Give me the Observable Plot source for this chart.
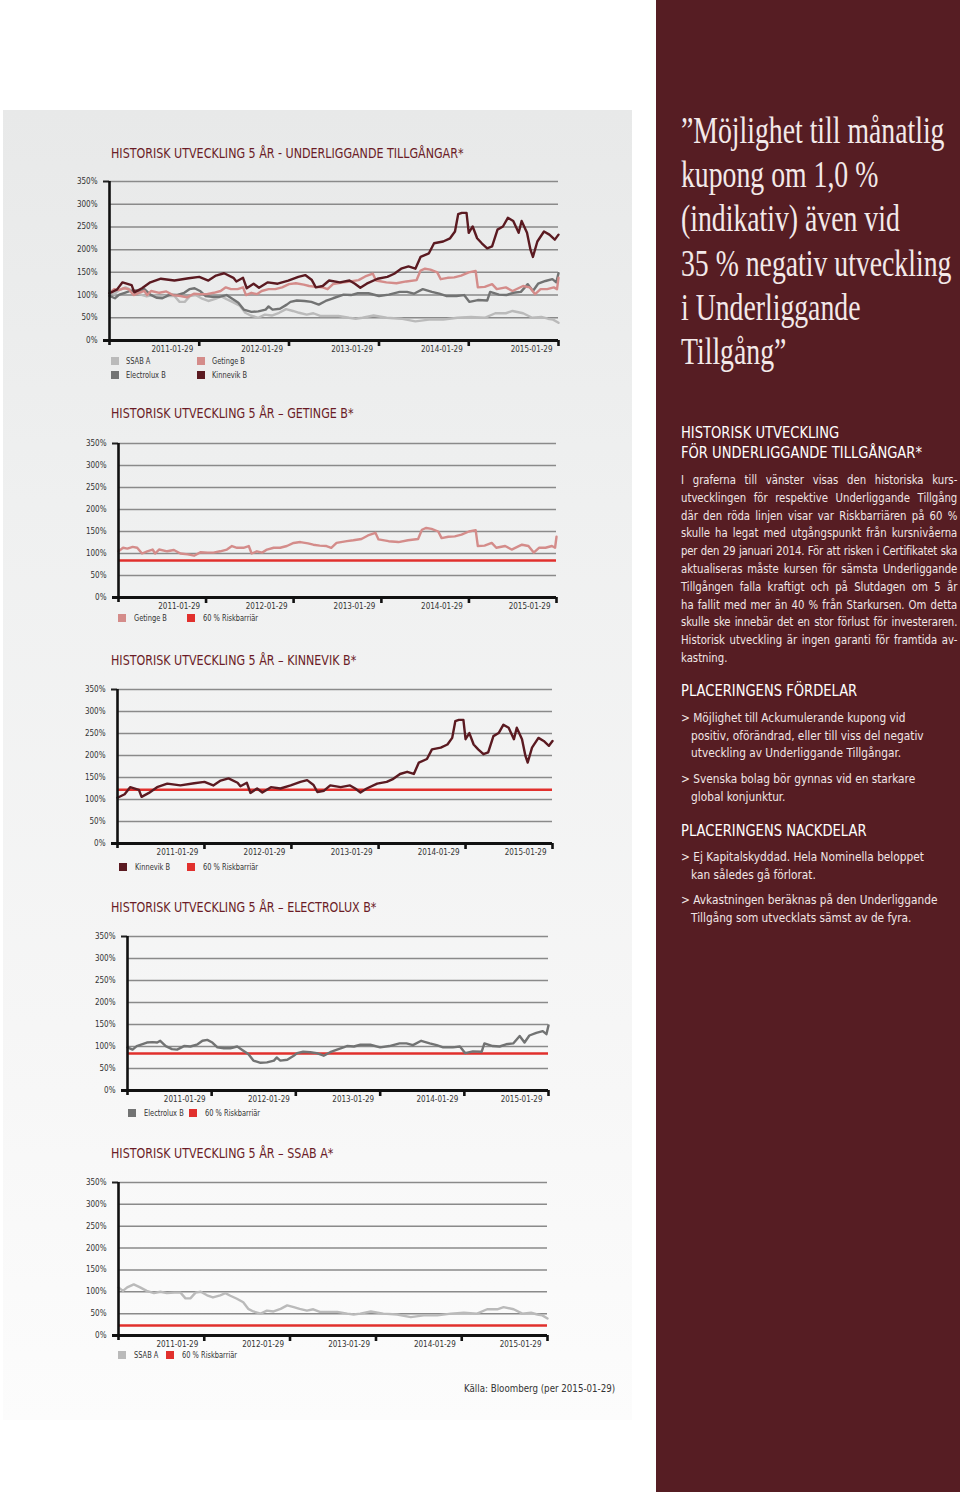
<!DOCTYPE html>
<html><head><meta charset="utf-8">
<script src="https://cdn.jsdelivr.net/npm/d3@7"></script>
<script src="https://cdn.jsdelivr.net/npm/@observablehq/plot@0.6"></script>
<style>
html,body{margin:0;padding:0;}
body{width:960px;height:1492px;position:relative;background:#fff;overflow:hidden;font-family:"Liberation Sans",Arial,sans-serif;}
.abs{position:absolute;white-space:nowrap;transform-origin:0 0;}
.cond{font-family:"Liberation Sans Narrow","DejaVu Sans Condensed","Roboto Condensed","Liberation Sans",sans-serif;}
#leftbg{position:absolute;left:3px;top:110px;width:629px;height:1310px;background:linear-gradient(to bottom,#e8e9e9 0%,#eff0f0 30%,#f6f6f6 70%,#fcfcfc 100%);}
#rightbg{position:absolute;left:656px;top:0;width:304px;height:1492px;background:#561d23;}
.title{font-size:13.5px;color:#6b1c26;transform:scaleX(0.915);}
.leg{font-size:8.5px;color:#333;transform:scaleX(0.87);}
.sq{position:absolute;width:8px;height:8px;}
.quote{font-family:"Liberation Serif","DejaVu Serif",serif;font-size:38px;color:#f3e9e9;transform:scaleX(0.73);line-height:44.2px;}
.rh{font-size:15.5px;color:#fff;line-height:20px;transform:scaleX(0.94);}
.rb{font-size:12.5px;color:#f1e6e6;line-height:17.8px;}
.para{width:307px;transform:scaleX(0.9);}
.para div{text-align:justify;text-align-last:justify;white-space:nowrap;}
.para div.l{text-align-last:left;}
.bul{transform:scaleX(0.94);line-height:17.6px;}
svg.plot{position:absolute;left:0;overflow:visible;}
</style></head><body>
<div id="leftbg"></div>
<div id="rightbg"></div>
<div id="root"></div>
<script>
// ---------- data ----------
const tickDates = ["2011-01-29","2012-01-29","2013-01-29","2014-01-29","2015-01-29"];
const startDate = "2010-01-29";
const yTicks = [0,50,100,150,200,250,300,350];
const seriesNames = ["SSAB A","Getinge B","Electrolux B","Kinnevik B"];
const seriesColors = ["#bababa","#d48c8a","#727373","#5b1a21"];
const barrierLabel = "60 % Riskbarriär";
const barrierColor = "#e1302d";
const getingeBarrier = 84;
const kinnevikBarrier = 122;
const electroluxBarrier = 84;
const ssabBarrier = 23;

const kinnevikB = [["2010-01-29",104],["2010-02-28",112],["2010-03-23",128],["2010-04-29",122],["2010-05-10",106],["2010-06-10",115],["2010-07-14",128],["2010-08-26",136],["2010-10-20",132],["2010-12-17",137],["2011-01-29",140],["2011-03-07",132],["2011-04-07",143],["2011-05-10",148],["2011-06-17",138],["2011-06-29",130],["2011-07-26",138],["2011-08-10",115],["2011-09-07",125],["2011-09-29",116],["2011-11-04",128],["2011-12-14",125],["2012-01-26",132],["2012-03-07",140],["2012-04-04",144],["2012-05-01",133],["2012-05-17",117],["2012-06-14",120],["2012-07-10",132],["2012-08-23",128],["2012-10-01",132],["2012-10-23",125],["2012-11-14",116],["2012-12-10",125],["2013-01-23",136],["2013-03-04",140],["2013-04-01",147],["2013-04-29",158],["2013-05-29",163],["2013-06-26",158],["2013-07-17",184],["2013-08-20",192],["2013-09-10",214],["2013-10-17",218],["2013-11-14",225],["2013-12-04",240],["2013-12-17",278],["2014-01-01",281],["2014-01-20",281],["2014-01-29",237],["2014-02-14",251],["2014-03-04",225],["2014-03-23",214],["2014-04-14",203],["2014-05-04",207],["2014-05-26",244],["2014-06-17",251],["2014-07-07",270],["2014-07-29",263],["2014-08-20",237],["2014-09-01",263],["2014-09-23",237],["2014-10-07",200],["2014-10-17",184],["2014-11-04",218],["2014-12-01",240],["2014-12-23",233],["2015-01-14",222],["2015-01-29",233]];

const getingeB = [["2010-01-29",105],["2010-02-17",113],["2010-03-07",111],["2010-03-29",115],["2010-04-17",113],["2010-05-07",100],["2010-05-29",105],["2010-06-20",109],["2010-07-01",100],["2010-07-17",109],["2010-08-20",105],["2010-09-17",108],["2010-10-14",100],["2010-11-14",98],["2010-12-10",95],["2011-01-07",103],["2011-02-04",102],["2011-03-01",102],["2011-03-29",105],["2011-04-26",109],["2011-05-17",117],["2011-06-07",113],["2011-07-04",113],["2011-07-26",117],["2011-08-07",100],["2011-08-29",105],["2011-09-20",102],["2011-10-10",109],["2011-11-07",113],["2011-12-04",113],["2012-01-01",117],["2012-01-29",124],["2012-02-26",126],["2012-03-29",123],["2012-04-20",120],["2012-05-17",118],["2012-06-14",117],["2012-07-04",113],["2012-07-26",124],["2012-09-07",128],["2012-10-04",130],["2012-11-07",133],["2012-12-04",141],["2013-01-04",147],["2013-01-17",132],["2013-02-28",128],["2013-04-10",126],["2013-05-20",130],["2013-07-01",133],["2013-07-17",154],["2013-08-04",158],["2013-08-26",156],["2013-09-23",150],["2013-10-07",135],["2013-11-04",138],["2013-12-01",139],["2013-12-29",143],["2014-01-29",150],["2014-02-26",153],["2014-03-07",117],["2014-04-04",118],["2014-05-04",124],["2014-05-23",113],["2014-06-29",117],["2014-07-26",109],["2014-09-07",120],["2014-10-04",117],["2014-10-26",102],["2014-11-17",113],["2014-12-14",113],["2015-01-10",117],["2015-01-23",113],["2015-01-29",138]];

const electroluxB = [["2010-01-29",98],["2010-02-20",93],["2010-03-10",101],["2010-04-01",105],["2010-04-23",109],["2010-05-17",110],["2010-06-07",109],["2010-06-20",113],["2010-07-14",101],["2010-08-10",94],["2010-09-01",93],["2010-10-01",101],["2010-10-29",100],["2010-11-29",105],["2010-12-20",113],["2011-01-10",115],["2011-02-01",109],["2011-02-23",98],["2011-03-23",96],["2011-04-20",96],["2011-05-20",100],["2011-06-17",90],["2011-07-07",83],["2011-07-29",68],["2011-08-29",63],["2011-09-26",64],["2011-10-26",68],["2011-11-07",75],["2011-11-23",68],["2011-12-23",70],["2012-01-20",79],["2012-02-04",85],["2012-03-01",88],["2012-04-01",87],["2012-04-29",85],["2012-05-29",79],["2012-06-26",87],["2012-07-26",93],["2012-09-07",101],["2012-10-07",100],["2012-11-04",104],["2012-12-17",104],["2013-01-29",98],["2013-03-10",101],["2013-04-23",107],["2013-05-23",107],["2013-06-20",103],["2013-07-26",113],["2013-09-01",107],["2013-10-01",103],["2013-10-29",98],["2013-12-10",98],["2014-01-10",100],["2014-02-01",85],["2014-03-07",89],["2014-04-14",88],["2014-04-26",107],["2014-06-01",101],["2014-07-01",100],["2014-07-29",105],["2014-08-29",107],["2014-09-26",124],["2014-10-17",109],["2014-11-07",125],["2014-12-07",131],["2015-01-04",135],["2015-01-20",128],["2015-01-29",148]];

const ssabA = [["2010-01-29",110],["2010-02-17",102],["2010-03-07",110],["2010-04-04",117],["2010-05-01",110],["2010-05-29",102],["2010-06-29",97],["2010-07-26",100],["2010-08-23",97],["2010-09-23",98],["2010-10-20",98],["2010-11-10",85],["2010-12-01",85],["2010-12-23",98],["2011-01-14",100],["2011-02-10",92],["2011-03-07",87],["2011-04-07",92],["2011-04-29",97],["2011-05-20",91],["2011-06-17",84],["2011-07-14",76],["2011-08-04",61],["2011-08-26",55],["2011-09-26",50],["2011-10-23",57],["2011-11-20",55],["2011-12-20",61],["2012-01-17",69],["2012-02-14",65],["2012-03-10",61],["2012-04-10",57],["2012-05-07",60],["2012-06-04",54],["2012-07-04",54],["2012-08-17",54],["2012-09-29",50],["2012-10-26",48],["2012-11-23",50],["2013-01-07",55],["2013-03-01",50],["2013-04-29",48],["2013-06-26",42],["2013-08-20",46],["2013-10-17",46],["2013-12-14",50],["2014-02-07",52],["2014-04-04",50],["2014-05-17",60],["2014-06-29",60],["2014-07-26",65],["2014-09-07",60],["2014-10-14",50],["2014-11-20",52],["2014-12-17",48],["2015-01-07",46],["2015-01-29",39]];

// ---------- layout ----------
const root = document.getElementById("root");
function el(html){const d=document.createElement("div");d.innerHTML=html;while(d.firstChild)root.appendChild(d.firstChild);}

function chart({lines, barrier, left, right, top, bottom}){
  const W = 640, mt = 10, mb = 22;
  const s = new Date(startDate), e = new Date(tickDates[tickDates.length-1]);
  const msPx = (e - s) / (right - left);
  const uPx = 350 / (bottom - top);
  const sExt = new Date(+s - 6*msPx);
  const marks = [
    Plot.ruleY(yTicks.filter(d=>d>0), {x1: s, x2: e, stroke:"#8a8a8a", strokeWidth:1.5}),
    Plot.ruleY([350], {x1: sExt, x2: s, stroke:"#222", strokeWidth:2}),
  ];
  if (barrier != null) marks.push(Plot.ruleY([barrier], {x1: s, x2: e, stroke: barrierColor, strokeWidth:2.6}));
  for (const L of lines) marks.push(Plot.line(L.data, {x: d=>new Date(d[0]), y: d=>d[1], stroke: L.color, strokeWidth:2.4, strokeLinejoin:"round"}));
  marks.push(
    Plot.ruleY([0], {x1: sExt, x2: e, stroke:"#111", strokeWidth:3}),
    Plot.ruleX([s], {y1: 350, y2: -5*uPx, stroke:"#111", strokeWidth:2.6}),
    Plot.ruleX(tickDates, {x: d=>new Date(d), y1: 0, y2: -6*uPx, stroke:"#111", strokeWidth:2.6}),
    Plot.text(tickDates, {x: d=>new Date(d), y: 0, dy: 9, dx: -6, text: d=>d, textAnchor:"end", fontSize: 8, fill:"#333"}),
    Plot.text(yTicks, {x: s, y: d=>d, dx: -12, text: d=>d+"%", textAnchor:"end", fontSize: 8, fill:"#333"})
  );
  const svg = Plot.plot({
    width: W, height: (bottom-top)+mt+mb,
    marginLeft: left, marginRight: W-right, marginTop: mt, marginBottom: mb,
    x: {type:"utc", domain:[s,e], axis:null},
    y: {domain:[0,350], axis:null},
    style: {background:"transparent", fontFamily:'"Liberation Sans Narrow","DejaVu Sans Condensed","Liberation Sans",sans-serif', overflow:"visible"},
    marks
  });
  svg.style.top = (top - mt) + "px";
  svg.style.position = "absolute";
  svg.style.left = "0px";
  root.appendChild(svg);
}

const colorOf = n => seriesColors[seriesNames.indexOf(n)];
const dataOf = {"SSAB A": ssabA, "Getinge B": getingeB, "Electrolux B": electroluxB, "Kinnevik B": kinnevikB};

// Top chart
el(`<div class="abs title cond" style="left:111px;top:145px">HISTORISK UTVECKLING 5 ÅR - UNDERLIGGANDE TILLGÅNGAR*</div>`);
chart({lines: ["SSAB A","Electrolux B","Getinge B","Kinnevik B"].map(n=>({data:dataOf[n], color:colorOf(n)})), barrier:null, left:109, right:558, top:181, bottom:340});
const legPos = [[111,357],[197,357],[111,371],[197,371]];
seriesNames.forEach((n,i)=>{
  const [x,y]=legPos[i];
  el(`<div class="sq" style="left:${x}px;top:${y}px;background:${colorOf(n)}"></div><div class="abs leg cond" style="left:${x+15}px;top:${y-1}px">${n}</div>`);
});

// single charts
const singles = [
  {name:"Getinge B", barrier:getingeBarrier, left:118, right:556, top:443, bottom:597, titleY:405, leg:[118,614,187]},
  {name:"Kinnevik B", barrier:kinnevikBarrier, left:117, right:552, top:689, bottom:843, titleY:652, leg:[119,863,187]},
  {name:"Electrolux B", barrier:electroluxBarrier, left:127, right:548, top:936, bottom:1090, titleY:899, leg:[128,1109,189]},
  {name:"SSAB A", barrier:ssabBarrier, left:118, right:547, top:1182, bottom:1335, titleY:1145, leg:[118,1351,166]}
];
for (const c of singles){
  el(`<div class="abs title cond" style="left:111px;top:${c.titleY}px">HISTORISK UTVECKLING 5 ÅR – ${c.name.toUpperCase()}*</div>`);
  chart({lines:[{data:dataOf[c.name], color:colorOf(c.name)}], barrier:c.barrier, left:c.left, right:c.right, top:c.top, bottom:c.bottom});
  const [x,y,rx]=c.leg;
  el(`<div class="sq" style="left:${x}px;top:${y}px;background:${colorOf(c.name)}"></div><div class="abs leg cond" style="left:${x+16}px;top:${y-1}px">${c.name}</div>`);
  el(`<div class="sq" style="left:${rx}px;top:${y}px;background:${barrierColor}"></div><div class="abs leg cond" style="left:${rx+16}px;top:${y-1}px">${barrierLabel}</div>`);
}
el(`<div class="abs cond" style="left:464px;top:1382px;font-size:10.5px;color:#333;transform:scaleX(0.92)">Källa: Bloomberg (per 2015-01-29)</div>`);

// right panel
el(`<div class="abs quote" style="left:681px;top:108px">”Möjlighet till månatlig<br>kupong om 1,0 %<br>(indikativ) även vid<br>35 % negativ utveckling<br>i Underliggande<br>Tillgång”</div>`);
el(`<div class="abs rh cond" style="left:681px;top:423px">HISTORISK UTVECKLING<br>FÖR UNDERLIGGANDE TILLGÅNGAR*</div>`);
el(`<div class="abs rb para cond" style="left:681px;top:471px">
<div>I graferna till vänster visas den historiska kurs-</div>
<div>utvecklingen för respektive Underliggande Tillgång</div>
<div>där den röda linjen visar var Riskbarriären på 60 %</div>
<div>skulle ha legat med utgångspunkt från kursnivåerna</div>
<div style="letter-spacing:-0.2px">per den 29 januari 2014. För att risken i Certifikatet ska</div>
<div>aktualiseras måste kursen för sämsta Underliggande</div>
<div>Tillgången falla kraftigt och på Slutdagen om 5 år</div>
<div>ha fallit med mer än 40 % från Starkursen. Om detta</div>
<div style="letter-spacing:-0.1px">skulle ske innebär det en stor förlust för investeraren.</div>
<div>Historisk utveckling är ingen garanti för framtida av-</div>
<div class="l">kastning.</div></div>`);
el(`<div class="abs rh cond" style="left:681px;top:681px">PLACERINGENS FÖRDELAR</div>`);
el(`<div class="abs rb bul cond" style="left:681px;top:709px">&gt; Möjlighet till Ackumulerande kupong vid<br>&nbsp;&nbsp; positiv, oförändrad, eller till viss del negativ<br>&nbsp;&nbsp; utveckling av Underliggande Tillgångar.</div>`);
el(`<div class="abs rb bul cond" style="left:681px;top:770px">&gt; Svenska bolag bör gynnas vid en starkare<br>&nbsp;&nbsp; global konjunktur.</div>`);
el(`<div class="abs rh cond" style="left:681px;top:821px">PLACERINGENS NACKDELAR</div>`);
el(`<div class="abs rb bul cond" style="left:681px;top:848px">&gt; Ej Kapitalskyddad. Hela Nominella beloppet<br>&nbsp;&nbsp; kan således gå förlorat.</div>`);
el(`<div class="abs rb bul cond" style="left:681px;top:891px">&gt; Avkastningen beräknas på den Underliggande<br>&nbsp;&nbsp; Tillgång som utvecklats sämst av de fyra.</div>`);
</script>
</body></html>
